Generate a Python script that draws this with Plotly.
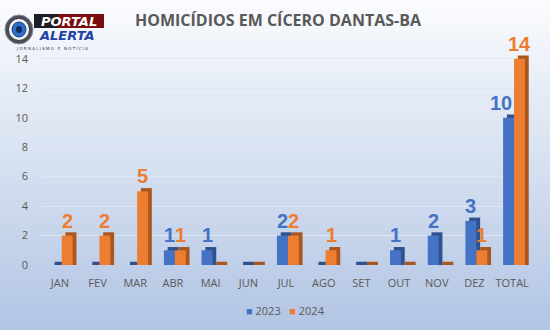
import plotly.graph_objects as go

# --- data ---------------------------------------------------------------
meses = ["JAN", "FEV", "MAR", "ABR", "MAI", "JUN", "JUL", "AGO", "SET",
         "OUT", "NOV", "DEZ", "TOTAL"]
casos_2023 = [0, 0, 0, 1, 1, 0, 2, 0, 0, 1, 2, 3, 10]
casos_2024 = [2, 2, 5, 1, 0, 0, 2, 1, 0, 0, 0, 1, 14]
y_ticks = [0, 2, 4, 6, 8, 10, 12, 14]

# --- geometry / style ---------------------------------------------------
W, H = 550, 330
ML, MR, MT, MB = 41, 19, 50, 65
PW, PH = W - ML - MR, H - MT - MB
CAT_PX = PW / len(meses)

AZUL, AZUL_ESC = "#4472C4", "#2F528F"
LARANJA, LARANJA_ESC = "#ED7D31", "#A9571F"
CINZA = "#595959"

BAR_W = 0.29
OFF_2023, OFF_2024 = -0.24, 0.05
DEPTH_X = 0.10    # 3-D side face, in category units
DEPTH_Y = 0.22    # 3-D top face, in value units


def px(x):
    return (x - ML) / PW


def py(y):
    return (H - MB - y) / PH


fig = go.Figure()

# depth faces drawn behind the front faces
for vals, cor, off in [(casos_2023, AZUL_ESC, OFF_2023),
                       (casos_2024, LARANJA_ESC, OFF_2024)]:
    fig.add_trace(go.Bar(
        x=meses, y=[v + DEPTH_Y for v in vals], base=0, width=BAR_W,
        offset=off + DEPTH_X, marker=dict(color=cor, line=dict(width=0)),
        showlegend=False, hoverinfo="skip"))

for nome, vals, cor, off in [("2023", casos_2023, AZUL, OFF_2023),
                             ("2024", casos_2024, LARANJA, OFF_2024)]:
    fig.add_trace(go.Bar(
        name=nome, x=meses, y=vals, width=BAR_W, offset=off,
        marker=dict(color=cor, line=dict(width=0)), showlegend=False))

# vertical gradient background (white -> light blue)
shapes = []
n = 66
top, bot = (250, 251, 253), (178, 197, 228)
for i in range(n):
    t = i / (n - 1)
    c = tuple(round(top[k] + (bot[k] - top[k]) * t) for k in range(3))
    shapes.append(dict(
        type="rect", xref="paper", yref="paper", layer="below",
        x0=px(0), x1=px(W), y0=py(H * (i + 1) / n), y1=py(H * i / n),
        fillcolor="rgb(%d,%d,%d)" % c, line=dict(width=0)))

# logo: eye badge and name plate
shapes += [
    dict(type="rect", xref="paper", yref="paper",
         x0=px(34), x1=px(104), y0=py(28), y1=py(14),
         fillcolor="#7a0d10", line=dict(width=0)),
    dict(type="rect", xref="paper", yref="paper",
         x0=px(34), x1=px(58), y0=py(28), y1=py(14),
         fillcolor="#1e1e22", line=dict(width=0)),
    dict(type="circle", xref="paper", yref="paper",
         x0=px(5), x1=px(33), y0=py(44), y1=py(15),
         fillcolor="#4a4d55", line=dict(color="#8a8e96", width=1)),
    dict(type="circle", xref="paper", yref="paper",
         x0=px(9), x1=px(29), y0=py(40), y1=py(19),
         fillcolor="#f4f6fa", line=dict(width=0)),
    dict(type="circle", xref="paper", yref="paper",
         x0=px(12), x1=px(26), y0=py(37), y1=py(22),
         fillcolor="#2a6fc9", line=dict(color="#143a73", width=1)),
    dict(type="circle", xref="paper", yref="paper",
         x0=px(16), x1=px(22), y0=py(33), y1=py(26),
         fillcolor="#0d2d5c", line=dict(width=0)),
]

legenda = ("<span style='color:%s'>■</span> 2023"
           "&nbsp;&nbsp;&nbsp;<span style='color:%s'>■</span> 2024"
           % (AZUL, LARANJA))

annotations = [
    dict(text="<i><b>PORTAL</b></i>", xref="paper", yref="paper",
         x=px(69), y=py(21), showarrow=False, xanchor="center",
         yanchor="middle",
         font=dict(family="DejaVu Sans", size=13, color="white")),
    dict(text="<i><b>ALERTA</b></i>", xref="paper", yref="paper",
         x=px(67), y=py(36), showarrow=False, xanchor="center",
         yanchor="middle",
         font=dict(family="DejaVu Sans", size=13, color="#2140a8")),
    dict(text="J O R N A L I S M O   E   N O T Í C I A", xref="paper",
         yref="paper", x=px(52), y=py(48), showarrow=False,
         xanchor="center", yanchor="middle",
         font=dict(family="DejaVu Sans", size=4, color="#333333")),
    dict(text="<b>HOMICÍDIOS EM CÍCERO DANTAS-BA</b>", xref="paper",
         yref="paper", x=px(278), y=py(20), showarrow=False,
         xanchor="center", yanchor="middle",
         font=dict(family="Open Sans", size=16, color=CINZA)),
    dict(text=legenda, xref="paper", yref="paper", x=px(285), y=py(310),
         showarrow=False, xanchor="center", yanchor="middle",
         font=dict(family="Open Sans", size=11, color=CINZA)),
]

# value labels above each non-zero bar (the two-digit 2023 total is
# nudged left so it does not run into the 2024 bar)
for vals, cor, off in [(casos_2023, AZUL, OFF_2023),
                       (casos_2024, LARANJA, OFF_2024)]:
    for i, (mes, v) in enumerate(zip(meses, vals)):
        if not v:
            continue
        shift = (off + BAR_W / 2) * CAT_PX
        if v >= 10 and cor == AZUL:
            shift -= 8
        annotations.append(dict(
            x=mes, y=v, text="<b>%d</b>" % v, showarrow=False,
            xanchor="center", yanchor="bottom", xshift=shift, yshift=2,
            font=dict(family="Liberation Sans", size=20, color=cor)))

fig.update_layout(
    width=W, height=H,
    margin=dict(l=ML, r=MR, t=MT, b=MB),
    barmode="overlay",
    paper_bgcolor="white",
    plot_bgcolor="rgba(0,0,0,0)",
    shapes=shapes,
    annotations=annotations,
    font=dict(family="Open Sans", color=CINZA),
    xaxis=dict(tickfont=dict(size=11, color=CINZA), showgrid=False,
               showline=False, zeroline=False, ticks="",
               range=[-0.5, 12.5], ticklabelstandoff=10),
    yaxis=dict(range=[0, 14.6], tickvals=y_ticks,
               tickfont=dict(size=11, color=CINZA),
               gridcolor="rgba(225,229,236,0.95)", gridwidth=1,
               zeroline=False, showline=False, ticks="",
               ticklabelstandoff=12),
    showlegend=False,
)

fig.write_html("out.html")
